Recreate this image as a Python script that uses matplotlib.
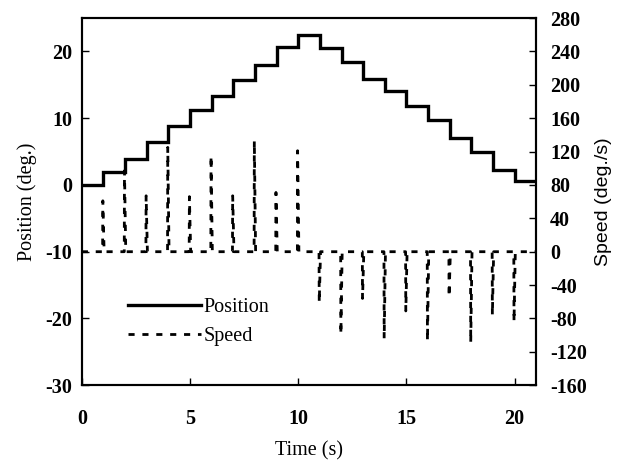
import numpy as np
import matplotlib
matplotlib.use("Agg")
import matplotlib.pyplot as plt

# step times (s) and position level after each step (deg.)
step_times = [1, 2, 3, 4, 5, 6, 7, 8, 9, 10, 11, 12, 13, 14, 15, 16, 17, 18, 19, 20]
start_level = 0.0
levels = [2.0, 3.9, 6.5, 8.8, 11.3, 13.3, 15.7, 18.0, 20.7, 22.4,
          20.5, 18.4, 15.8, 14.0, 11.8, 9.8, 7.0, 4.9, 2.2, 0.6]
t_end = 21.0

# speed spike peaks (deg./s), one per step
spike_peaks = [61, 97, 67, 125, 66, 115, 67, 133, 71, 121,
               -61, -99, -56, -104, -71, -107, -54, -109, -76, -84]

plt.rcParams["font.family"] = ["Liberation Serif", "DejaVu Serif"]
plt.rcParams["axes.unicode_minus"] = False

fig = plt.figure(figsize=(6.2, 4.63), dpi=100)
ax = fig.add_axes([0.132, 0.168, 0.733, 0.793])
ax2 = ax.twinx()

# position as a step trace
px = [0.0] + step_times + [t_end]
py = [start_level] + levels + [levels[-1]]
ax.step(px, py, where="post", color="black", lw=2.4, label="Position",
        solid_joinstyle="miter")

# speed: zero baseline with a narrow spike at each step
sx, sy = [0.0], [0.0]
for t, p in zip(step_times, spike_peaks):
    sx += [t - 0.04, t - 0.03, t + 0.03]
    sy += [0.0, p, 0.0]
sx.append(t_end)
sy.append(0.0)
ln_speed, = ax2.plot(sx, sy, color="black", lw=2.0, ls=(0, (2.2, 2.8)),
                     label="Speed")

ax.set_xlim(0, 21)
ax.set_ylim(-30, 25)
ax2.set_ylim(-160, 280)
ax.set_xticks([0, 5, 10, 15, 20])
ax.set_yticks([-30, -20, -10, 0, 10, 20])
ax2.set_yticks(np.arange(-160, 281, 40))

ax.tick_params(axis="x", direction="in", length=5, width=1, labelsize=14.5, pad=17, top=False)
ax.tick_params(axis="y", direction="in", length=5, width=1, labelsize=14.5, pad=7, right=False)
ax2.tick_params(direction="in", length=5, width=1, labelsize=14.5, pad=10)
for lab in ax.get_xticklabels() + ax.get_yticklabels() + ax2.get_yticklabels():
    lab.set_fontweight("bold")
for a in (ax, ax2):
    for s in a.spines.values():
        s.set_linewidth(1.5)

ax.set_xlabel("Time (s)", fontsize=14.5, labelpad=9)
ax.set_ylabel("Position (deg.)", fontsize=14.5, labelpad=6)
ax2.set_ylabel("Speed (deg./s)", fontsize=14, family=["Liberation Sans", "DejaVu Sans"],
               labelpad=6)

h1, l1 = ax.get_legend_handles_labels()
ax.legend(h1 + [ln_speed], l1 + ["Speed"], loc="lower left",
          bbox_to_anchor=(0.062, 0.058), frameon=False, fontsize=14.5,
          handlelength=3.6, handletextpad=0.15, labelspacing=0.5)

fig.savefig("out.png", dpi=100)
